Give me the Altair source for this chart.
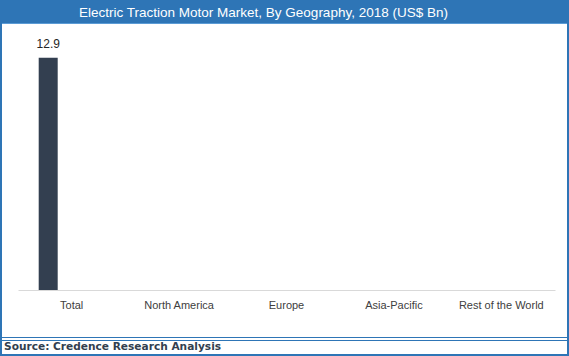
import altair as alt
import pandas as pd

categories = ["Total", "North America", "Europe", "Asia-Pacific", "Rest of the World"]
values = [12.9, None, None, None, None]
title_text = "Electric Traction Motor Market, By Geography, 2018 (US$ Bn)"
source_text = "Source: Credence Research Analysis"

df = pd.DataFrame({"category": categories, "value": values})
one = pd.DataFrame({"k": [0]})

BLUE = "#2E75B6"
BAR = "#333F50"

xenc = alt.X("category:N", sort=categories, title=None,
             scale=alt.Scale(paddingInner=0, paddingOuter=0),
             axis=alt.Axis(labelAngle=0, ticks=False, grid=False, domainColor="#D9D9D9",
                           domainWidth=1, labelFont="Liberation Sans", labelFontSize=11,
                           labelColor="#404040", labelPadding=9, labelBaseline="top"))
yenc = alt.Y("value:Q", axis=None, scale=alt.Scale(domain=[0, 14], nice=False))

bars = alt.Chart(df).mark_bar(size=19, xOffset=-23.5, color=BAR).encode(x=xenc, y=yenc)
labels = alt.Chart(df).transform_filter("isValid(datum.value)").mark_text(
    xOffset=-23.5, dy=-10, baseline="alphabetic", font="Liberation Sans", fontSize=12,
    color="#262626").encode(x=xenc, y=yenc, text=alt.Text("value:Q", format=".1f"))

band = alt.Chart(one).mark_rect(color=BLUE).encode(
    x=alt.value(-18), x2=alt.value(551), y=alt.value(-38), y2=alt.value(-15))
band_line = alt.Chart(one).mark_rule(color="#5B9BD5", strokeWidth=1).encode(
    x=alt.value(-18), x2=alt.value(551), y=alt.value(-14.5))
title = alt.Chart(one).mark_text(
    text=title_text, color="white", font="Liberation Sans", fontSize=13.5,
    align="center", baseline="alphabetic").encode(x=alt.value(245.5), y=alt.value(-21))
border = alt.Chart(one).mark_rect(fill=None, stroke=BLUE, strokeWidth=2).encode(
    x=alt.value(-17), x2=alt.value(550), y=alt.value(-37), y2=alt.value(317))
rule1 = alt.Chart(one).mark_rule(color=BLUE, strokeWidth=1).encode(
    x=alt.value(-18), x2=alt.value(551), y=alt.value(299.5))
rule2 = alt.Chart(one).mark_rule(color=BLUE, strokeWidth=1).encode(
    x=alt.value(-18), x2=alt.value(551), y=alt.value(302.5))
source = alt.Chart(one).mark_text(
    text=source_text, color=BAR, font="DejaVu Sans", fontWeight="bold", fontSize=10.6,
    align="left", baseline="alphabetic").encode(x=alt.value(-14), y=alt.value(311.5))

chart = alt.layer(bars, labels, band, band_line, title, border, rule1, rule2, source).properties(
    width=537, height=252,
    autosize=alt.AutoSizeParams(type="none"),
    padding={"left": 18, "top": 38, "right": 14, "bottom": 66},
    background="white",
).configure_view(stroke=None)

chart.save("out.html", embed_options={"renderer": "svg", "actions": False})
